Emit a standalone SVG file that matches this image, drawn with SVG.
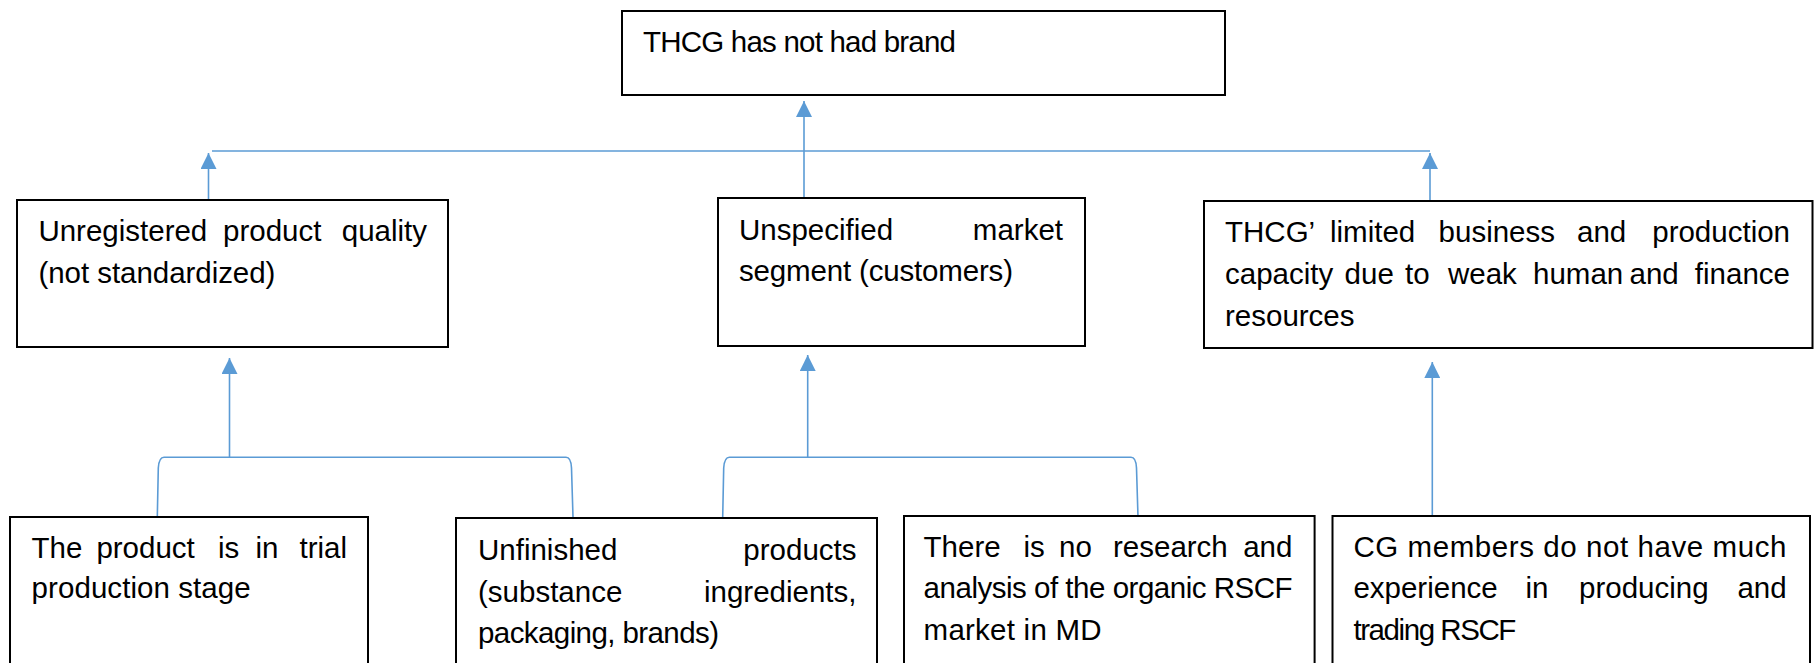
<svg xmlns="http://www.w3.org/2000/svg" width="1817" height="663" viewBox="0 0 1817 663">
  <style>
    .box { fill: #ffffff; stroke: #000000; stroke-width: 2; }
    .t { font-family: "Liberation Sans", Arial, sans-serif; font-size: 29.5px; fill: #000000; }
    .e { text-anchor: end; }
    .c { fill: none; stroke: #5B9BD5; stroke-width: 1.6; }
  </style>
  <defs>
    <marker id="up" markerUnits="userSpaceOnUse" markerWidth="16" markerHeight="16" viewBox="0 0 16 16" refX="8" refY="0" orient="0">
      <path d="M0,16 L8,0 L16,16 Z" fill="#5B9BD5"/>
    </marker>
  </defs>

  <rect width="1817" height="663" fill="#ffffff"/>

  <g id="connectors">
    <path class="c" d="M804,199 L804,101" marker-end="url(#up)"/>
    <path class="c" d="M212,151 L1430,151"/>
    <path class="c" d="M208.5,200 L208.5,153" marker-end="url(#up)"/>
    <path class="c" d="M1430,201 L1430,153" marker-end="url(#up)"/>
    <path class="c" d="M229.5,458 L229.5,358" marker-end="url(#up)"/>
    <path class="c" d="M157.3,517 L158.3,468 Q159,457.3 164,457.3 L566,457.3 Q571,457.3 571.5,468 L573,517"/>
    <path class="c" d="M807.7,457.3 L807.7,355" marker-end="url(#up)"/>
    <path class="c" d="M722.7,517 L723.7,468 Q724.4,457.3 729.4,457.3 L1131,457.3 Q1136,457.3 1136.5,468 L1138,517"/>
    <path class="c" d="M1432.3,516 L1432.3,362" marker-end="url(#up)"/>
  </g>

  <g id="node-top">
    <rect class="box" x="622" y="11" width="603" height="84"/>
    <text class="t" x="643" y="52" textLength="313">THCG has not had brand</text>
  </g>

  <g id="node-quality">
    <rect class="box" x="17" y="200" width="431" height="147"/>
    <text class="t" y="241"><tspan x="38.4">Unregistered</tspan><tspan x="223">product</tspan></text>
    <text class="t e" x="427" y="241">quality</text>
    <text class="t" x="38.4" y="283" textLength="237">(not standardized)</text>
  </g>

  <g id="node-market">
    <rect class="box" x="718" y="198" width="367" height="148"/>
    <text class="t" x="739" y="240">Unspecified</text>
    <text class="t e" x="1063" y="240">market</text>
    <text class="t" x="739" y="281" textLength="274">segment (customers)</text>
  </g>

  <g id="node-capacity">
    <rect class="box" x="1204" y="201" width="608.5" height="147"/>
    <text class="t" y="242"><tspan x="1225">THCG’</tspan><tspan x="1330">limited</tspan><tspan x="1438.6">business</tspan><tspan x="1577">and</tspan></text>
    <text class="t e" x="1790" y="242">production</text>
    <text class="t" y="284"><tspan x="1225">capacity</tspan><tspan x="1344.6">due</tspan><tspan x="1405">to</tspan><tspan x="1448">weak</tspan><tspan x="1533">human</tspan><tspan x="1629.5">and</tspan></text>
    <text class="t e" x="1790" y="284">finance</text>
    <text class="t" x="1225" y="326">resources</text>
  </g>

  <g id="node-trial">
    <rect class="box" x="10" y="517" width="358" height="160"/>
    <text class="t" y="558"><tspan x="31.6">The</tspan><tspan x="96.4">product</tspan><tspan x="218">is</tspan><tspan x="255.5">in</tspan></text>
    <text class="t e" x="347" y="558">trial</text>
    <text class="t" x="31.6" y="598" textLength="219">production stage</text>
  </g>

  <g id="node-unfinished">
    <rect class="box" x="456" y="518" width="421" height="160"/>
    <text class="t" x="478" y="560">Unfinished</text>
    <text class="t e" x="856.5" y="560">products</text>
    <text class="t" x="478" y="601.7">(substance</text>
    <text class="t e" x="856.5" y="601.7">ingredients,</text>
    <text class="t" x="478" y="643" textLength="241">packaging, brands)</text>
  </g>

  <g id="node-research">
    <rect class="box" x="904" y="516" width="410.6" height="160"/>
    <text class="t" y="557"><tspan x="923.6">There</tspan><tspan x="1023.5">is</tspan><tspan x="1059">no</tspan><tspan x="1113">research</tspan></text>
    <text class="t e" x="1292.4" y="557">and</text>
    <text class="t" x="923.6" y="598" textLength="369">analysis of the organic RSCF</text>
    <text class="t" x="923.6" y="640" textLength="178">market in MD</text>
  </g>

  <g id="node-experience">
    <rect class="box" x="1332.5" y="516" width="477.5" height="160"/>
    <text class="t" x="1353.4" y="557" textLength="433">CG members do not have much</text>
    <text class="t" y="598"><tspan x="1353.4">experience</tspan><tspan x="1525.5">in</tspan><tspan x="1579">producing</tspan></text>
    <text class="t e" x="1786.7" y="598">and</text>
    <text class="t" x="1353.4" y="640" textLength="163">trading RSCF</text>
  </g>
</svg>
